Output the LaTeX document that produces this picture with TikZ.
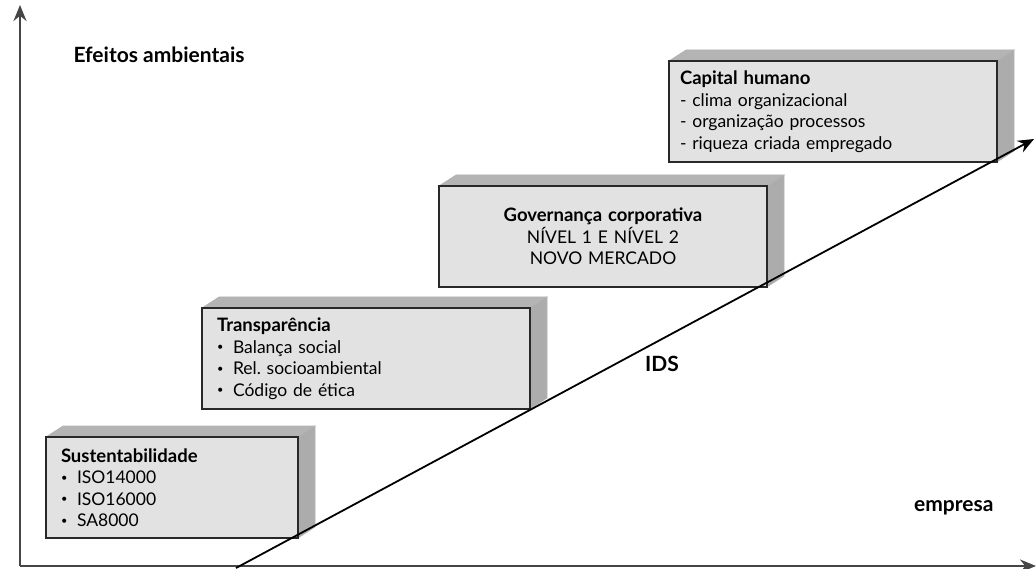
\documentclass[tikz,border=0pt]{standalone}
\usepackage{fontspec}
\setmainfont{Lato}
\usepackage{tikz}
\usetikzlibrary{arrows.meta}
\usetikzlibrary{backgrounds}
\definecolor{frente}{RGB}{226,226,226}
\definecolor{topo}{RGB}{180,180,180}
\definecolor{lado}{RGB}{172,172,172}
\definecolor{contorno}{RGB}{40,40,40}
\definecolor{eixo}{RGB}{70,70,70}
\frenchspacing
\newcommand{\larguracaixa}{328pt}
\newcommand{\alturacaixa}{101pt}
\newcommand{\marca}[1]{\makebox[16pt][l]{\raisebox{0.28ex}{\fontsize{11}{11}\selectfont\textbullet}}#1}
\newcommand{\titulo}[1]{{\fontsize{18.5}{21.5}\selectfont\bfseries #1}}
\newcommand{\faces}[1]{
    \begin{scope}[on background layer]
        \filldraw[topface] (#1.north west) -- ++(17,-11) -- ([shift={(17,-11)}]#1.north east) -- (#1.north east) -- cycle;
        \filldraw[sideface] (#1.north east) -- ++(17,-11) -- ([shift={(17,-11)}]#1.south east) -- (#1.south east) -- cycle;
    \end{scope}
}
\tikzset{
    common/.style={anchor=north west, draw=contorno, fill=frente, line width=2pt, outer sep=0pt,
        minimum height=\alturacaixa, inner xsep=11pt, font=\fontsize{17.5}{21.5}\selectfont},
    caixa/.style={common, minimum width=\larguracaixa, text width=\larguracaixa-22pt, align=left},
    caixalista/.style={caixa, inner xsep=15pt, text width=\larguracaixa-30pt},
    caixapequena/.style={common, inner xsep=15pt, minimum width=252pt, text width=222pt, align=left},
    caixacentro/.style={caixa, align=center},
    topface/.style={fill=topo, draw=gray!60, line width=0.6pt},
    sideface/.style={fill=lado, draw=gray!60, line width=0.6pt},
    rotulo/.style={font=\fontsize{21}{24}\selectfont\bfseries},
    eixoseta/.style={eixo, line width=2.6pt, -{Stealth[length=16pt,width=13pt]}},
    idsseta/.style={black, line width=1.8pt, -{Stealth[length=16pt,width=13pt]}}
}

\begin{document}
\begin{tikzpicture}[x=1pt,y=-1pt]
    \useasboundingbox (0,0) rectangle (1036,569);

    \coordinate (origem) at (20,566);
    \coordinate (topoy) at (20,5);
    \coordinate (fimx) at (1036,566);
    \coordinate (idsini) at (236,568);
    \coordinate (idsfim) at (1034,139);

    \path
        (46,437) node[caixapequena] (sust) {\titulo{Sustentabilidade}\\ \marca{ISO14000}\\ \marca{ISO16000}\\ \marca{SA8000}}
        (202,308) node[caixalista] (transp) {\titulo{Transparência}\\ \marca{Balança social}\\ \marca{Rel. socioambiental}\\ \marca{Código de ética}}
        (439,186) node[caixacentro] (gov) {\titulo{Governança corporativa}\\ NÍVEL 1 E NÍVEL 2\\ NOVO MERCADO}
        (669,61) node[caixa] (capital) {\titulo{Capital humano}\\ - clima organizacional\\ - organização processos\\ - riqueza criada empregado};

    \faces{sust}
    \faces{transp}
    \faces{gov}
    \faces{capital}

    \draw[eixoseta] (origem) -- (topoy);
    \draw[eixoseta] (origem) -- (fimx);
    \draw[idsseta] (idsini) -- (idsfim);

    \path
        (70,55) node[rotulo, anchor=west] (efeitos) {Efeitos ambientais}
        (997,508) node[rotulo, anchor=east] (empresa) {empresa}
        (662,364) node[rotulo] (ids) {IDS};
\end{tikzpicture}
\end{document}
